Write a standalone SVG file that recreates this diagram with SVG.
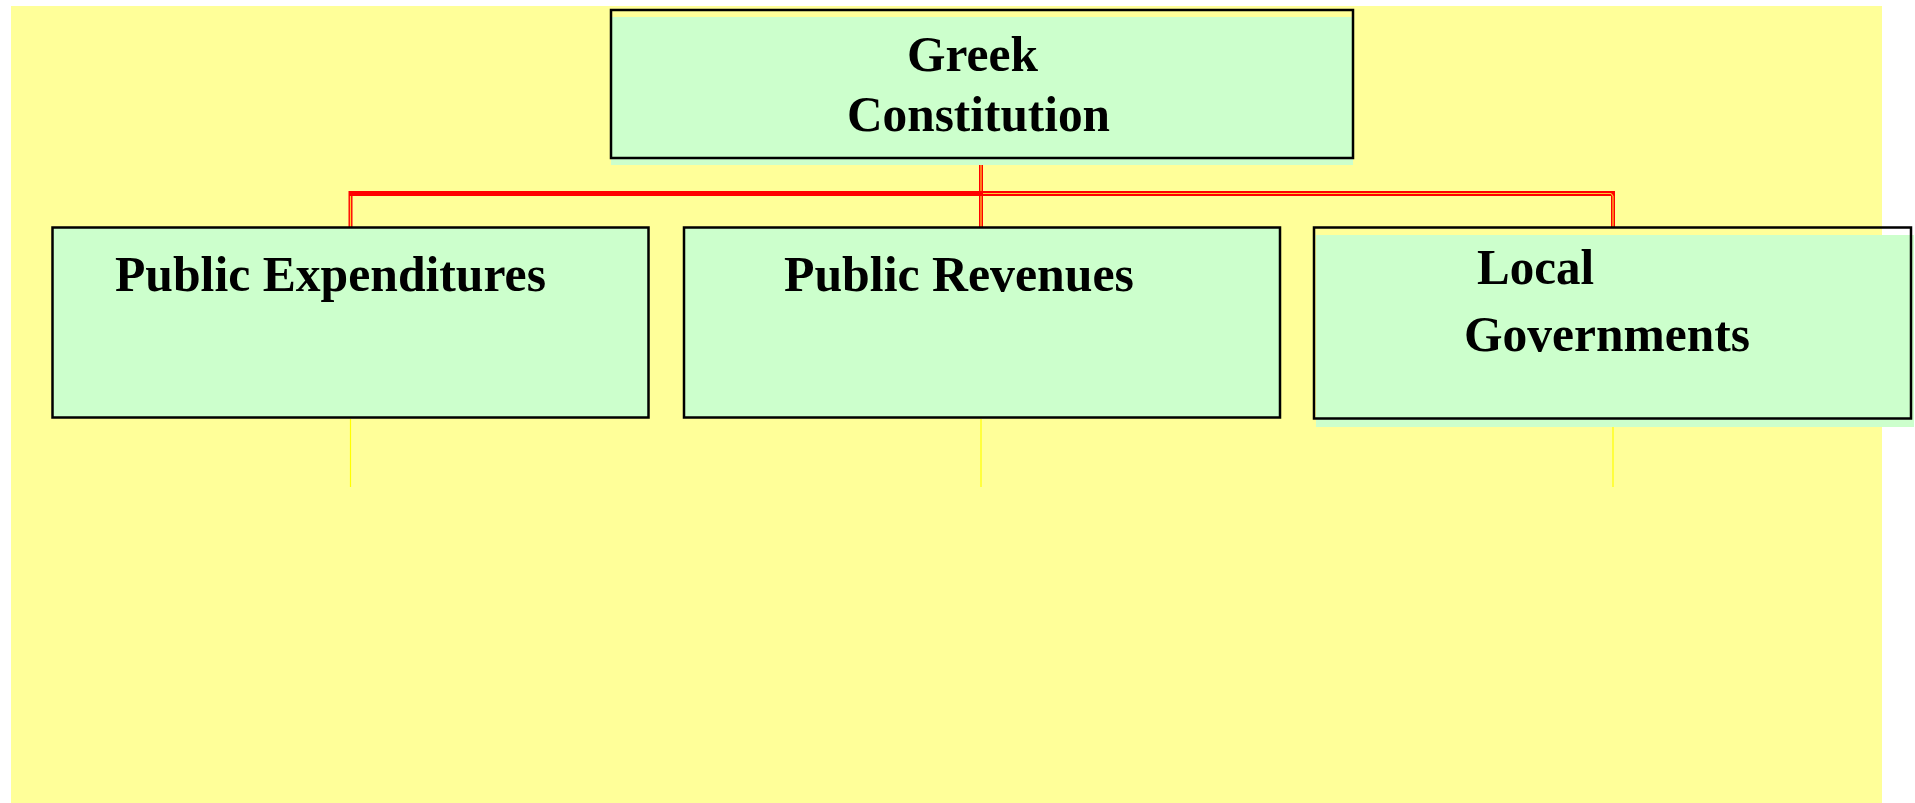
<svg xmlns="http://www.w3.org/2000/svg" width="1915" height="803" viewBox="0 0 1915 803">
<style>
.bg{fill:#FFFF99}
.fill{fill:#CCFFCC}
.border{fill:none;stroke:#000;stroke-width:2.5}
.t{font-family:"Liberation Serif","Times New Roman",serif;font-weight:bold;font-size:50px;fill:#000}
.red{stroke:#FF0000;fill:none}
.core{stroke:#FFCC33;fill:none;stroke-width:1.2}
.ylw{stroke:#FFFF00;stroke-width:1.2;fill:none}
</style>
<rect class="bg" x="11" y="6" width="1871" height="797"/>
<g id="connectors">
  <line class="red" x1="350.5" y1="193.5" x2="981" y2="193.5" stroke-width="5"/>
  <line class="red" x1="981" y1="193.5" x2="1613" y2="193.5" stroke-width="5"/>
  <line class="core" x1="983" y1="193.5" x2="1611" y2="193.5"/>
  <line class="red" x1="350.5" y1="191" x2="350.5" y2="228" stroke-width="4"/>
  <line class="core" x1="350.5" y1="196" x2="350.5" y2="228"/>
  <line class="red" x1="981" y1="165" x2="981" y2="228" stroke-width="4"/>
  <line class="core" x1="981" y1="165" x2="981" y2="191"/>
  <line class="core" x1="981" y1="196" x2="981" y2="228"/>
  <line class="red" x1="1613" y1="191" x2="1613" y2="228" stroke-width="4"/>
  <line class="core" x1="1613" y1="196" x2="1613" y2="228"/>
  <line class="core" x1="1611" y1="193.5" x2="1613" y2="196"/>
  <line class="ylw" x1="350.5" y1="419" x2="350.5" y2="487"/>
  <line class="ylw" x1="981" y1="419" x2="981" y2="487"/>
  <line class="ylw" x1="1613" y1="427" x2="1613" y2="487"/>
</g>
<g id="node-greek-constitution">
  <rect class="fill" x="611" y="17" width="742" height="148"/>
  <rect class="border" x="611" y="10" width="742" height="148"/>
  <text class="t" x="907" y="71" textLength="131" lengthAdjust="spacingAndGlyphs">Greek</text>
  <text class="t" x="847" y="131" textLength="263" lengthAdjust="spacingAndGlyphs">Constitution</text>
</g>
<g id="node-public-expenditures">
  <rect class="fill" x="52.5" y="227.5" width="596" height="190"/>
  <rect class="border" x="52.5" y="227.5" width="596" height="190"/>
  <text class="t" x="115" y="291" textLength="431" lengthAdjust="spacingAndGlyphs">Public Expenditures</text>
</g>
<g id="node-public-revenues">
  <rect class="fill" x="684" y="227.5" width="596" height="190"/>
  <rect class="border" x="684" y="227.5" width="596" height="190"/>
  <text class="t" x="784" y="291" textLength="350" lengthAdjust="spacingAndGlyphs">Public Revenues</text>
</g>
<g id="node-local-governments">
  <rect class="fill" x="1316" y="235" width="598" height="192"/>
  <rect class="border" x="1314" y="227.5" width="597" height="191"/>
  <text class="t" x="1477" y="284" textLength="117" lengthAdjust="spacingAndGlyphs">Local</text>
  <text class="t" x="1464" y="351" textLength="286" lengthAdjust="spacingAndGlyphs">Governments</text>
</g>
</svg>
